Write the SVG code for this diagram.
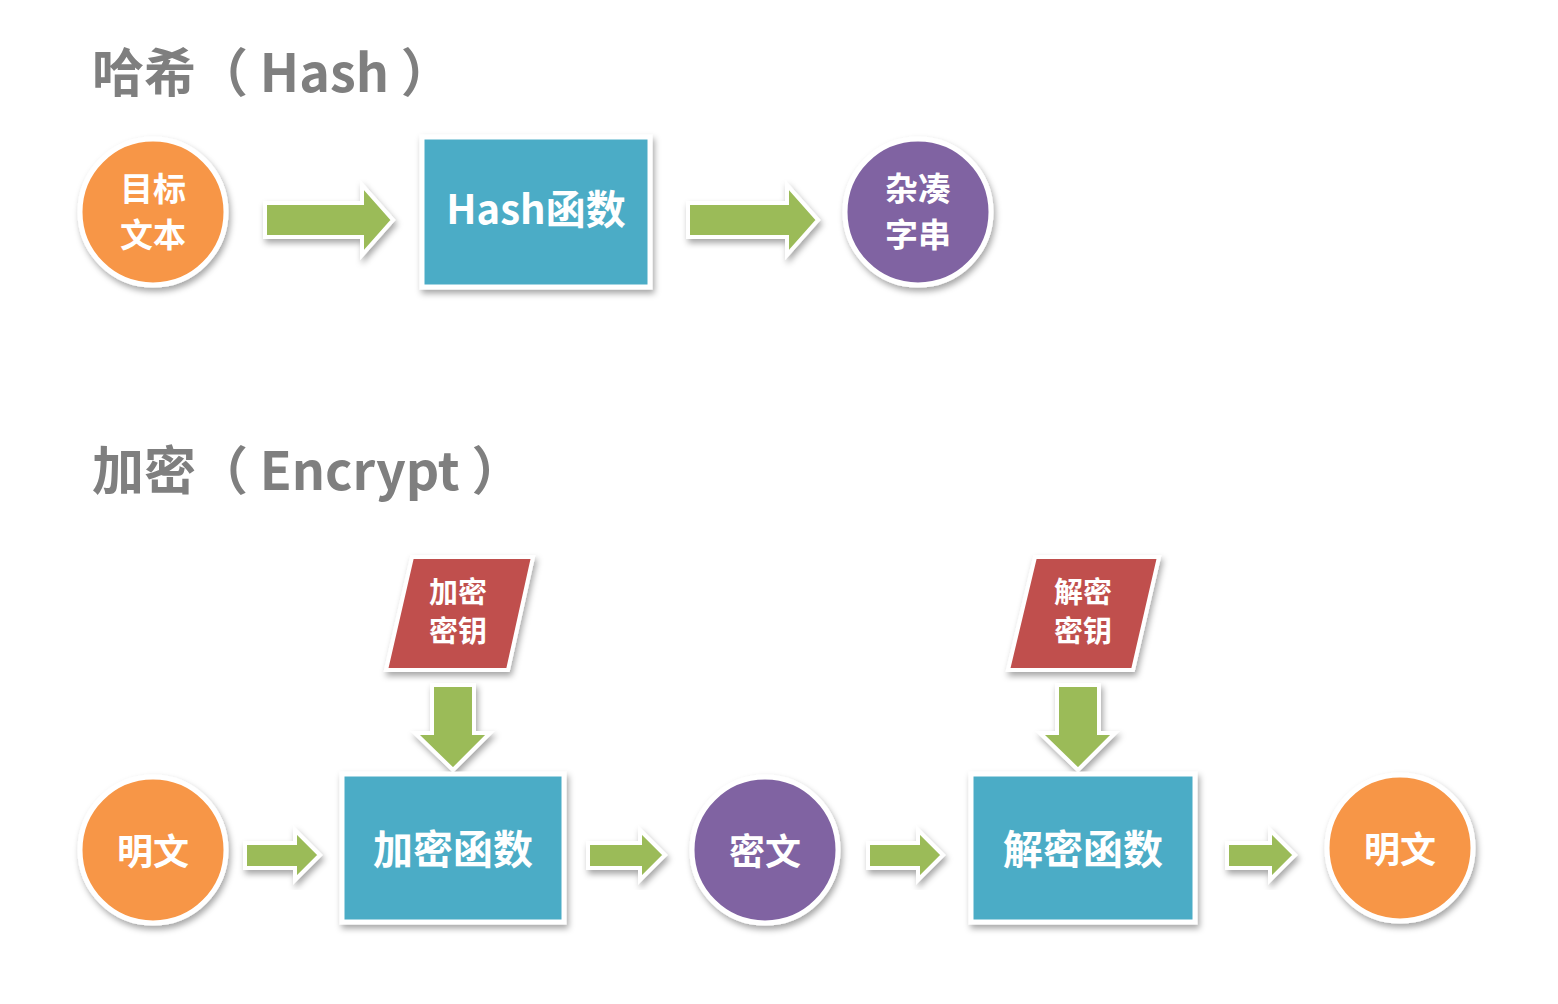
<svg xmlns="http://www.w3.org/2000/svg" width="1558" height="1004" viewBox="0 0 1558 1004">
<defs>
<filter id="sh" x="-20%" y="-20%" width="140%" height="140%">
<feDropShadow dx="2" dy="4" stdDeviation="3" flood-color="#000" flood-opacity="0.35"/>
</filter>
<style>
.title{font-family:"Noto Sans CJK SC","Noto Sans",sans-serif;font-weight:bold;font-size:52px;fill:#7f7f7f}
.lbl{font-family:"Noto Sans CJK SC","Noto Sans",sans-serif;font-weight:bold;fill:#fff;text-anchor:middle;dominant-baseline:central}
.orange{fill:#f79646;stroke:#fff;stroke-width:5;filter:url(#sh)}
.purple{fill:#8064a2;stroke:#fff;stroke-width:5;filter:url(#sh)}
.box{fill:#4bacc6;stroke:#fff;stroke-width:5;filter:url(#sh)}
.key{fill:#c0504d;stroke:#fff;stroke-width:4;filter:url(#sh)}
.arr{fill:#9bbb59;stroke:#fff;stroke-width:4;stroke-linejoin:miter;filter:url(#sh)}
</style>
</defs>
<rect width="1558" height="1004" fill="#fff"/>
<text class="title" x="92" y="92" xml:space="preserve">哈希（ Hash ）</text>
<text class="title" x="92" y="490" xml:space="preserve">加密（ Encrypt ）</text>
<g id="connectors">
<path class="arr" d="M265,203 H362 V185 L393,220 L362,255 V237 H265 Z"/>
<path class="arr" d="M688,203 H787 V185 L818,220 L787,255 V237 H688 Z"/>
<path class="arr" d="M245,843 H295 V830 L320,855 L295,880 V868 H245 Z"/>
<path class="arr" d="M588,843 H640 V830 L665,855 L640,880 V868 H588 Z"/>
<path class="arr" d="M868,843 H918 V830 L943,855 L918,880 V868 H868 Z"/>
<path class="arr" d="M1227,843 H1270 V830 L1295,855 L1270,880 V868 H1227 Z"/>
<path class="arr" d="M432,685 H474 V733 H490 L453,770 L415,733 H432 Z"/>
<path class="arr" d="M1057,685 H1099 V733 H1115 L1078,770 L1040,733 H1057 Z"/>
</g>
<g id="n-target">
<circle class="orange" cx="153" cy="212" r="73"/>
<text class="lbl" x="153" y="187" font-size="33">目标</text>
<text class="lbl" x="153" y="233" font-size="33">文本</text>
</g>
<g id="n-hashfn">
<rect class="box" x="422" y="137" width="228" height="150"/>
<text class="lbl" x="536" y="207" font-size="40">Hash函数</text>
</g>
<g id="n-digest">
<circle class="purple" cx="918" cy="212" r="73"/>
<text class="lbl" x="918" y="187" font-size="33">杂凑</text>
<text class="lbl" x="918" y="233" font-size="33">字串</text>
</g>
<g id="n-plain1">
<circle class="orange" cx="153" cy="850" r="73"/>
<text class="lbl" x="153" y="849" font-size="36">明文</text>
</g>
<g id="n-enckey">
<polygon class="key" points="412,557 533,557 508,670 386,670"/>
<text class="lbl" x="458" y="590" font-size="29">加密</text>
<text class="lbl" x="458" y="629" font-size="29">密钥</text>
</g>
<g id="n-encfn">
<rect class="box" x="342" y="774" width="222" height="148"/>
<text class="lbl" x="453" y="847" font-size="40">加密函数</text>
</g>
<g id="n-cipher">
<circle class="purple" cx="765" cy="850" r="73"/>
<text class="lbl" x="765" y="849" font-size="36">密文</text>
</g>
<g id="n-deckey">
<polygon class="key" points="1035,557 1159,557 1133,670 1008,670"/>
<text class="lbl" x="1083" y="590" font-size="29">解密</text>
<text class="lbl" x="1083" y="629" font-size="29">密钥</text>
</g>
<g id="n-decfn">
<rect class="box" x="971" y="774" width="224" height="148"/>
<text class="lbl" x="1083" y="847" font-size="40">解密函数</text>
</g>
<g id="n-plain2">
<circle class="orange" cx="1400" cy="848" r="73"/>
<text class="lbl" x="1400" y="847" font-size="36">明文</text>
</g>
</svg>
